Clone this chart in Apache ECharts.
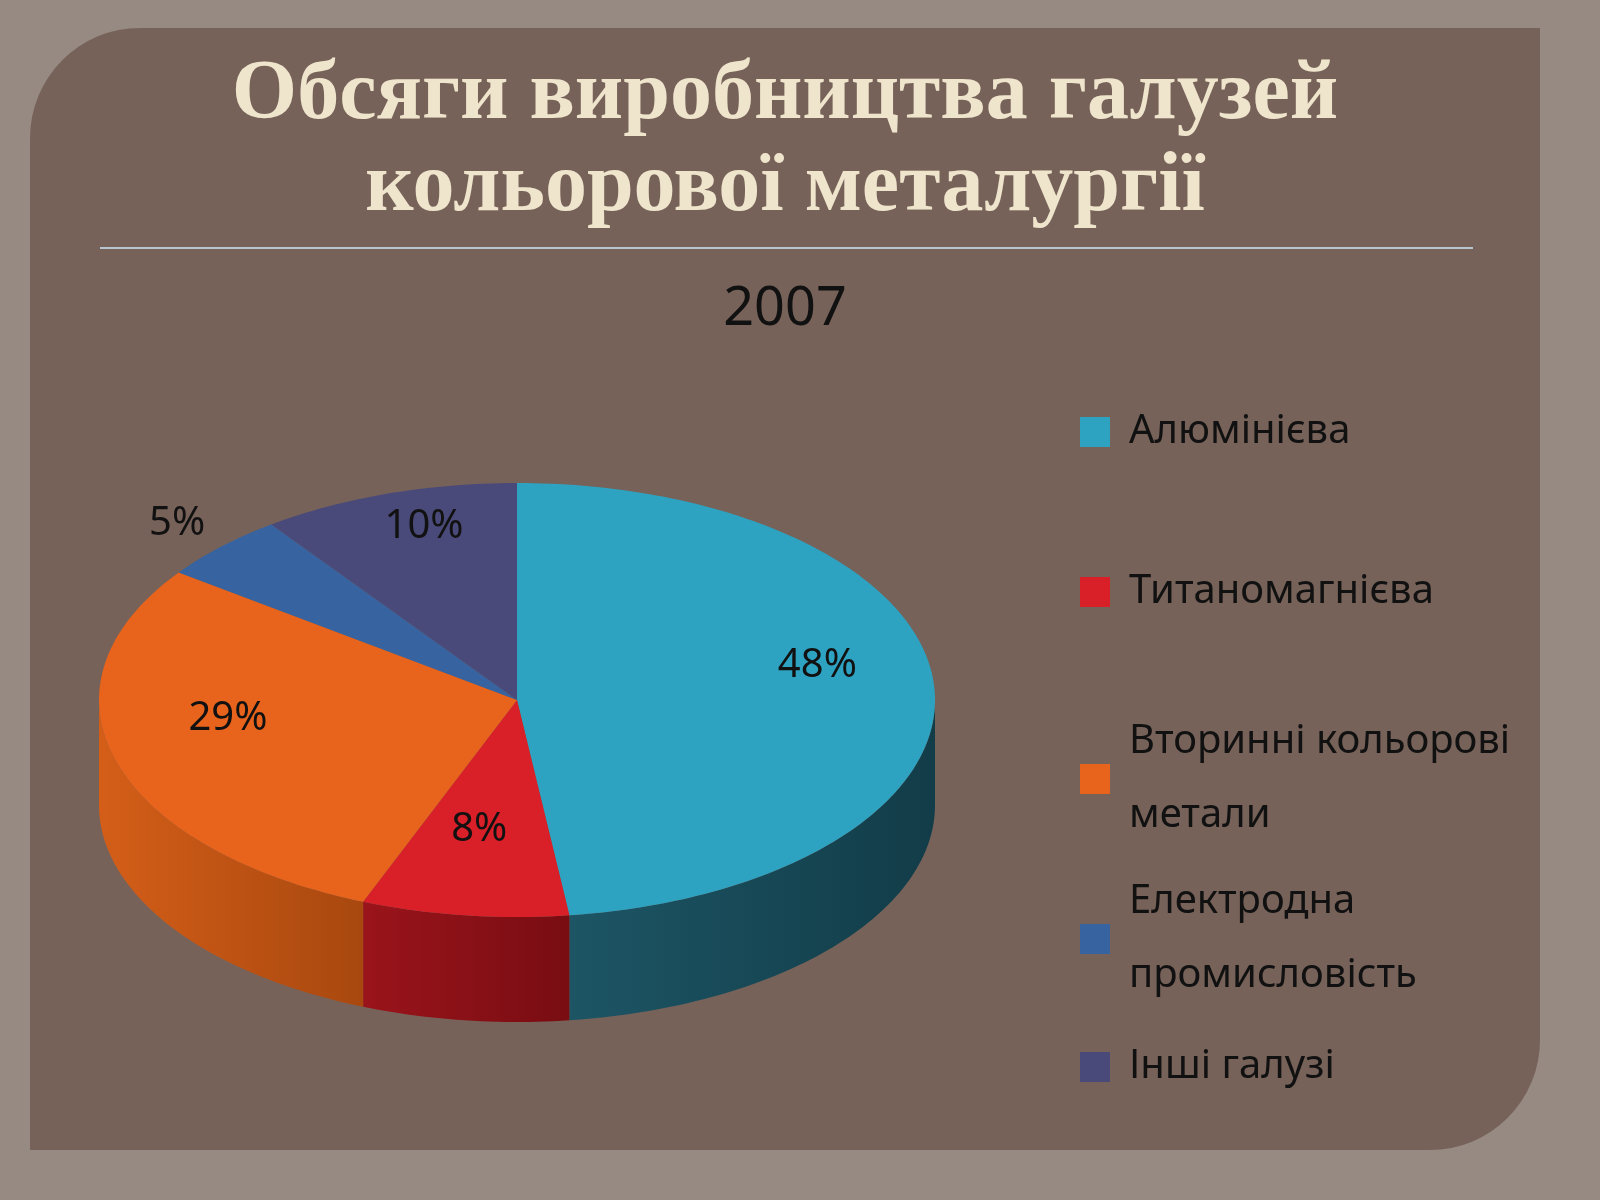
<!DOCTYPE html>
<html><head><meta charset="utf-8">
<script src="https://cdn.jsdelivr.net/npm/echarts@6/dist/echarts.min.js"></script>
<style>html,body{margin:0;padding:0;background:#978a82}#c{width:1600px;height:1200px}</style>
</head><body><div id="c"></div>
<script>
const categories = ['Алюмінієва','Титаномагнієва','Вторинні кольорові\nметали','Електродна\nпромисловість','Інші галузі'];
const values = [48, 8, 29, 5, 10];
const colors = ['#2ea2c1','#d91f28','#e8641c','#3764a0','#4a4a7a'];
const sideColors = ['#123c48','#780d12','#a8480f','#223e66','#2e2e4c'];
const sideLight = ['#1d5565','#9a141b','#d45e18','#2e5080','#3a3a60'];

const chart = echarts.init(document.getElementById('c'));
const total = values.reduce((a,b)=>a+b,0);
const CX=517, CY=700, RX=418, RY=217, DEPTH=105;
function angles(i){let s=0;for(let k=0;k<i;k++)s+=values[k];return [s/total*2*Math.PI,(s+values[i])/total*2*Math.PI];}
function pt(t,dy){return [CX+RX*Math.sin(t), CY-RY*Math.cos(t)+(dy||0)];}
function arc(a,b,dy){const p=[];const n=Math.max(4,Math.ceil((b-a)/0.02));for(let j=0;j<=n;j++)p.push(pt(a+(b-a)*j/n,dy));return p;}

function sideItem(params, api){
  const i=params.dataIndex; let [a,b]=angles(i);
  const lo=Math.max(a,Math.PI/2), hi=Math.min(b,3*Math.PI/2);
  if(hi<=lo) return null;
  const top=arc(lo,hi,0), bot=arc(lo,hi,DEPTH).reverse();
  return {type:'polygon',shape:{points:top.concat(bot)},
    style:{fill:new echarts.graphic.LinearGradient(0,0,1,0,[{offset:0,color:sideLight[i]},{offset:1,color:sideColors[i]}]),stroke:null}};
}
function topItem(params, api){
  const i=params.dataIndex; const [a,b]=angles(i);
  const pts=[[CX,CY]].concat(arc(a,b,0));
  const mid=(a+b)/2; const small=values[i]/total<0.06;
  const f=small?1.15:0.72;
  const lp=[CX+RX*f*Math.sin(mid), CY-RY*f*Math.cos(mid)-(small?0:25)];
  return {type:'group',children:[
    {type:'polygon',shape:{points:pts},style:{fill:colors[i],stroke:null}},
    {type:'text',x:lp[0],y:lp[1],style:{text:values[i]+'%',fill:'#111',font:'40px "Noto Sans"',align:'center',verticalAlign:'middle'}}
  ]};
}
const legendTops=[390,550,700,860,1025];
const legends=categories.map((c,i)=>({data:[c],left:1075,top:legendTops[i],orient:'vertical',itemWidth:30,itemHeight:30,icon:'rect',
  textStyle:{fontSize:40,fontFamily:'Noto Sans',color:'#111',lineHeight:74,padding:[0,0,0,14]},selectedMode:false}));

chart.setOption({
  backgroundColor:'#978a82',
  animation:false,
  graphic:[
    {type:'rect',shape:{x:30,y:28,width:1510,height:1122,r:[110,0,110,0]},style:{fill:'#766259'},z:-10},
    {type:'text',x:785,y:142,style:{text:'Обсяги виробництва галузей\nкольорової металургії',font:'bold 84px "Liberation Serif"',fill:'#efe4cc',align:'center',verticalAlign:'middle',lineHeight:92}},
    {type:'line',shape:{x1:100,y1:248,x2:1473,y2:248},style:{stroke:'#b8c4d0',lineWidth:2}},
    {type:'text',x:785,y:310,style:{text:'2007',font:'54px "Noto Sans"',fill:'#111',align:'center',verticalAlign:'middle'}}
  ],
  legend:legends,
  xAxis:{show:false,min:0,max:1600},yAxis:{show:false,min:0,max:1200},
  grid:{left:0,right:0,top:0,bottom:0},
  series:[
    {type:'pie',radius:0,center:[-100,-100],data:categories.map((c,i)=>({name:c,value:values[i],itemStyle:{color:colors[i]}})),label:{show:false},silent:true},
    {type:'custom',renderItem:sideItem,data:values.map(v=>[v]),silent:true},
    {type:'custom',renderItem:topItem,data:values.map(v=>[v]),silent:true}
  ]
});
</script></body></html>
